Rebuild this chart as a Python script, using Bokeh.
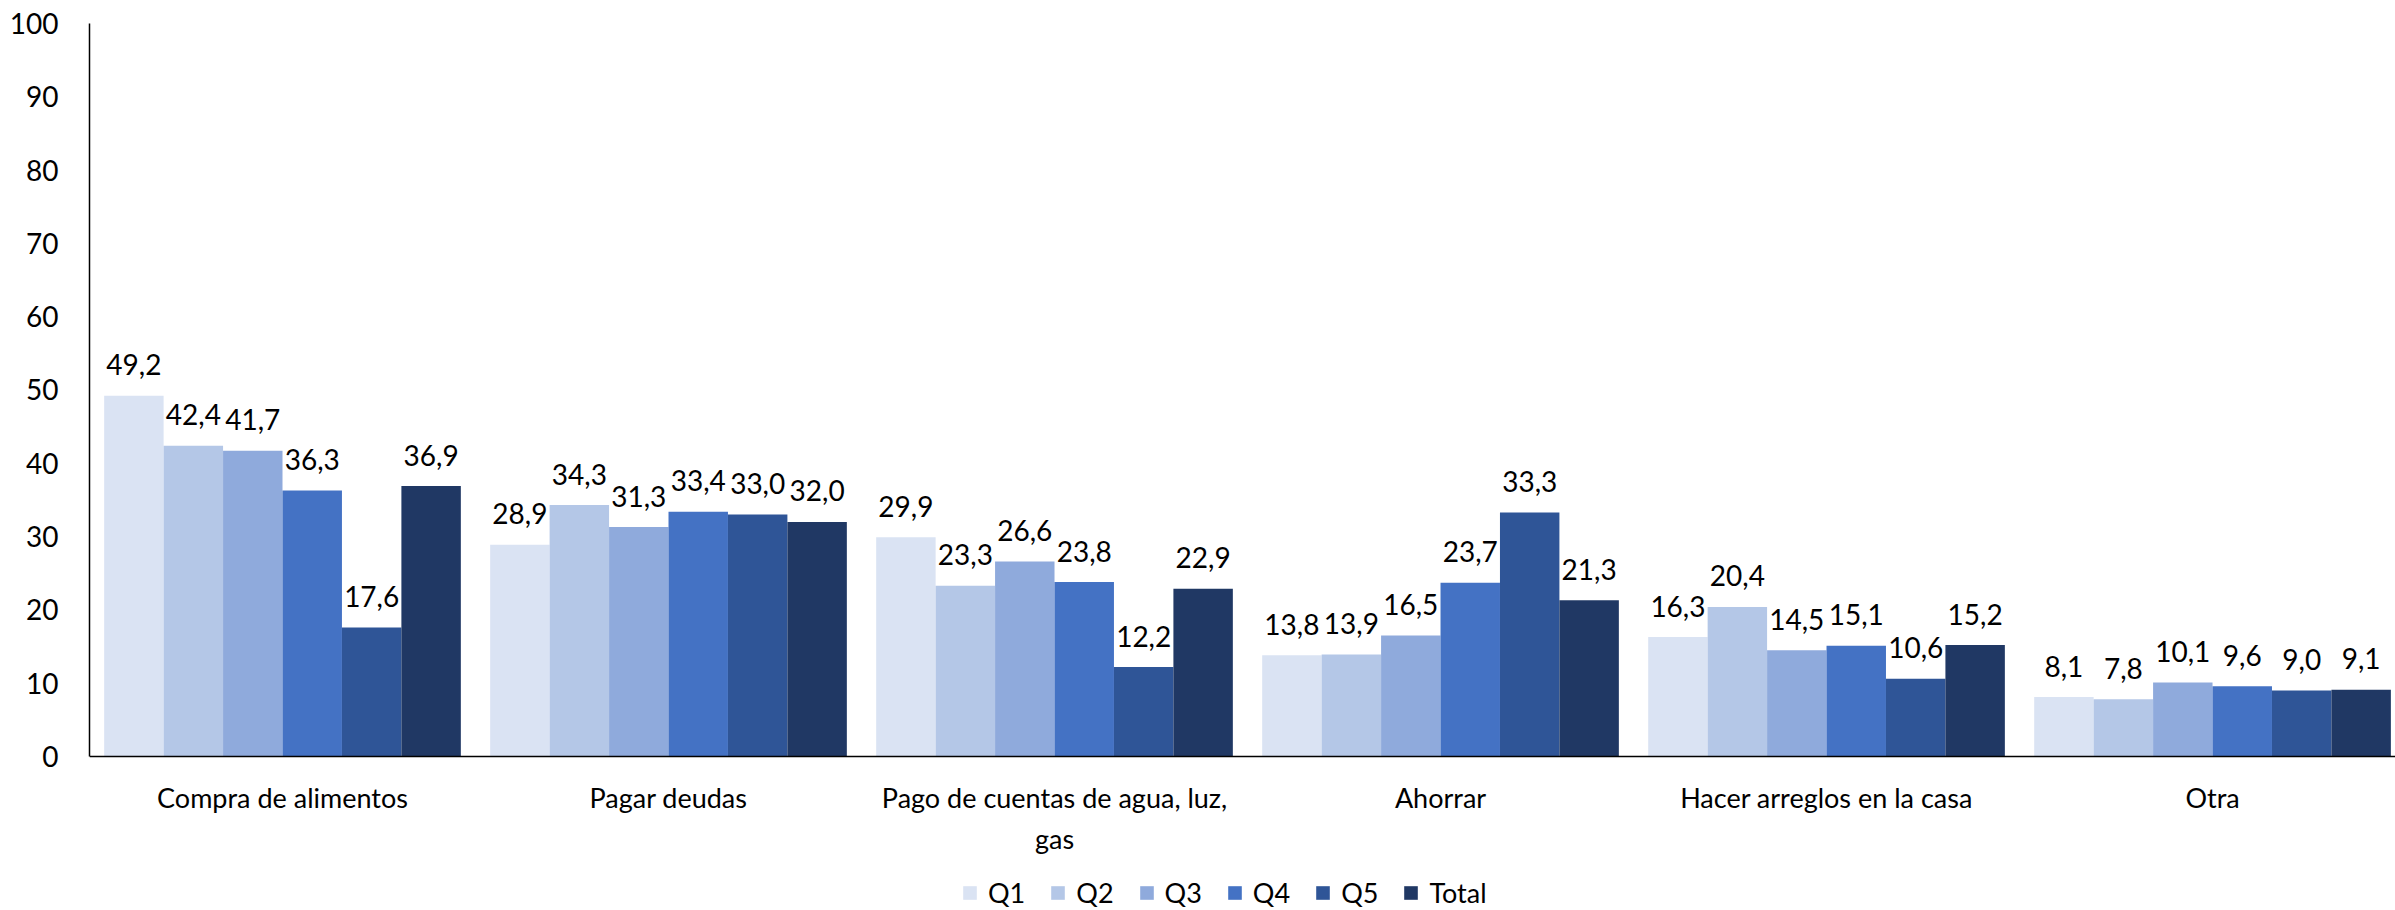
from bokeh.plotting import figure
from bokeh.models import ColumnDataSource, Range1d, FixedTicker, Legend, LegendItem, Span
from bokeh.core.properties import value
from bokeh.embed import file_html
from bokeh.resources import INLINE

categories = ["Compra de alimentos", "Pagar deudas", "Pago de cuentas de agua, luz,\ngas",
              "Ahorrar", "Hacer arreglos en la casa", "Otra"]
series = ["Q1", "Q2", "Q3", "Q4", "Q5", "Total"]
q1 = [49.2, 28.9, 29.9, 13.8, 16.3, 8.1]
q2 = [42.4, 34.3, 23.3, 13.9, 20.4, 7.8]
q3 = [41.7, 31.3, 26.6, 16.5, 14.5, 10.1]
q4 = [36.3, 33.4, 23.8, 23.7, 15.1, 9.6]
q5 = [17.6, 33.0, 12.2, 33.3, 10.6, 9.0]
total = [36.9, 32.0, 22.9, 21.3, 15.2, 9.1]
colors = ["#DAE3F3", "#B4C7E7", "#8FAADC", "#4472C4", "#2F5597", "#203864"]
y_ticks = [0, 10, 20, 30, 40, 50, 60, 70, 80, 90, 100]

FONT = "Lato"

# frame extends to the bottom of the canvas so the legend can live inside it
p = figure(width=2395, height=910, output_backend="svg", toolbar_location=None,
           x_range=Range1d(-0.5, 5.474), y_range=Range1d(-21.01, 100),
           min_border_left=89, min_border_right=0, min_border_top=23, min_border_bottom=0)
p.outline_line_color = None
p.xgrid.visible = False
p.ygrid.visible = False
p.xaxis.visible = False

bw = 0.154
renderers = []
for j, (name, vals) in enumerate(zip(series, [q1, q2, q3, q4, q5, total])):
    xs = [i + (j - 2.5) * bw for i in range(len(categories))]
    src = ColumnDataSource(dict(x=xs, top=vals,
                                lab=[f"{v:.1f}".replace(".", ",") for v in vals]))
    r = p.vbar(x="x", top="top", width=bw, bottom=0, source=src,
               fill_color=colors[j], line_color=None)
    renderers.append((name, r))
    p.text(x="x", y="top", text="lab", source=src, text_align="center",
           text_baseline="alphabetic", y_offset=-31, text_font=value(FONT),
           text_font_size="28px", text_color="#000000")

# category labels under the baseline
cat_src = ColumnDataSource(dict(x=list(range(len(categories))),
                                y=[0] * len(categories), t=categories))
p.text(x="x", y="y", text="t", source=cat_src, text_align="center",
       text_baseline="top", y_offset=25, text_font=value(FONT),
       text_font_size="27px", text_color="#000000", text_line_height=1.22)

# baseline (x axis line)
p.add_layout(Span(location=0, dimension="width", line_color="#000000", line_width=1.5))

p.yaxis.ticker = FixedTicker(ticks=y_ticks)
p.yaxis.bounds = (0, 100)
p.yaxis.major_tick_line_color = None
p.yaxis.minor_tick_line_color = None
p.yaxis.major_tick_out = 0
p.yaxis.major_label_standoff = 31
p.yaxis.major_label_text_font = FONT
p.yaxis.major_label_text_font_size = "28px"
p.yaxis.major_label_text_color = "#000000"
p.yaxis.axis_line_color = "#000000"
p.yaxis.axis_line_width = 1.5

legend = Legend(items=[LegendItem(label=n, renderers=[r]) for n, r in renderers],
                orientation="horizontal", location=(872, 1),
                glyph_width=17, glyph_height=17, label_standoff=10, spacing=24,
                padding=0, margin=0, border_line_alpha=0, background_fill_alpha=0,
                label_text_font=FONT, label_text_font_size="27px",
                label_text_color="#000000")
p.add_layout(legend)

open("out.html", "w").write(file_html(p, INLINE))
